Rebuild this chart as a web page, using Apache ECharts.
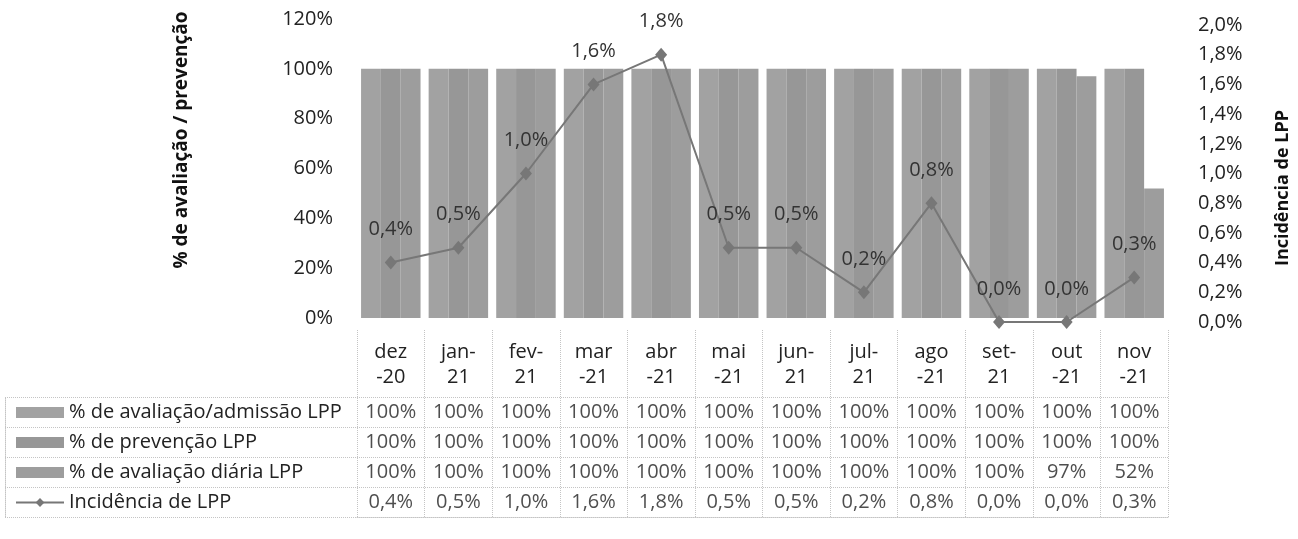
<!DOCTYPE html>
<html>
<head>
<meta charset="utf-8">
<script src="https://cdn.jsdelivr.net/npm/echarts@6/dist/echarts.min.js"></script>
<style>
html,body{margin:0;padding:0;background:#fff;}
#c{width:1298px;height:539px;}
</style>
</head>
<body>
<div id="c"></div>
<script>
// ---- data ----
const categories = ['dez\n-20','jan-\n21','fev-\n21','mar\n-21','abr\n-21','mai\n-21','jun-\n21','jul-\n21','ago\n-21','set-\n21','out\n-21','nov\n-21'];
const seriesNames = ['% de avaliação/admissão LPP','% de prevenção LPP','% de avaliação diária LPP','Incidência de LPP'];
const avaliacaoAdmissao = [100,100,100,100,100,100,100,100,100,100,100,100];
const prevencao         = [100,100,100,100,100,100,100,100,100,100,100,100];
const avaliacaoDiaria   = [100,100,100,100,100,100,100,100,100,100,97,52];
const incidencia        = [0.4,0.5,1.0,1.6,1.8,0.5,0.5,0.2,0.8,0.0,0.0,0.3];
const leftAxis  = {min:0, max:120, interval:20};
const rightAxis = {min:0, max:2, interval:0.2};
const leftTitle = '% de avaliação / prevenção';
const rightTitle = 'Incidência de LPP';

// ---- helpers ----
const FONT = 'Open Sans';
const FS = 20;
const fmt1 = v => Number(v).toFixed(1).replace('.', ',') + '%';
const fmt0 = v => Math.round(v) + '%';
const barColors = ['#a2a2a2','#979797','#9d9d9d'];
const lineColor = '#777777';
const dotted = {color:'#c4c4c4', type:'dotted', width:1};

const tableRows = [avaliacaoAdmissao, prevencao, avaliacaoDiaria, incidencia];
const tableFmt = [fmt0, fmt0, fmt0, fmt1];
const cellData = [];
tableRows.forEach((row, r) => row.forEach((v, i) => cellData.push([i, r, tableFmt[r](v)])));

const L = 357, R = 130;
const chart = echarts.init(document.getElementById('c'));
chart.setOption({
  animation:false,
  textStyle:{fontFamily:FONT},
  grid:[
    {left:L, right:R, top:19, height:299},
    {left:L, right:R, top:25, height:297},
    {left:L, right:R, top:330, height:187},
    {left:5, right:R, top:397, height:120},
    {left:L, right:R, top:397, height:120}
  ],
  xAxis:[
    {type:'category', gridIndex:0, data:categories, axisLine:{show:false}, axisTick:{show:false},
     axisLabel:{margin:22, fontSize:FS, lineHeight:25, color:'#222', fontFamily:FONT, interval:0}},
    {type:'category', gridIndex:1, data:categories, show:false},
    {type:'category', gridIndex:2, data:categories, position:'top', axisLine:{show:true, lineStyle:dotted},
     axisTick:{show:false}, axisLabel:{show:false}, splitLine:{show:true, lineStyle:dotted}},
    {type:'value', gridIndex:3, show:false},
    {type:'category', gridIndex:4, data:categories, show:false}
  ],
  yAxis:[
    {type:'value', gridIndex:0, min:leftAxis.min, max:leftAxis.max, interval:leftAxis.interval,
     axisLine:{show:false}, axisTick:{show:false}, splitLine:{show:false},
     axisLabel:{margin:24, fontSize:FS, color:'#222', fontFamily:FONT, formatter:v=>v+'%'}},
    {type:'value', gridIndex:1, position:'right', min:rightAxis.min, max:rightAxis.max, interval:rightAxis.interval,
     axisLine:{show:false}, axisTick:{show:false}, splitLine:{show:false},
     axisLabel:{margin:30, fontSize:FS, color:'#222', fontFamily:FONT, formatter:fmt1}},
    {type:'value', gridIndex:2, show:false},
    {type:'category', gridIndex:3, data:['0','1','2','3'], axisLine:{show:true, lineStyle:dotted},
     axisTick:{show:false}, axisLabel:{show:false}, splitLine:{show:true, lineStyle:dotted}},
    {type:'category', gridIndex:4, data:['0','1','2','3'], inverse:true, show:false}
  ],
  legend:{
    orient:'vertical', left:15, top:402, padding:0, itemGap:9, itemWidth:48, itemHeight:11,
    textStyle:{fontSize:FS, lineHeight:21, color:'#222', fontFamily:FONT},
    data:[
      {name:seriesNames[0], icon:'rect'},
      {name:seriesNames[1], icon:'rect'},
      {name:seriesNames[2], icon:'rect'},
      {name:seriesNames[3]}
    ], selectedMode:false
  },
  graphic:[
    {type:'text', x:182, y:140, rotation:Math.PI/2,
     style:{text:leftTitle, textAlign:'center', textVerticalAlign:'middle', font:'bold 19px "Open Sans"', fill:'#111'}},
    {type:'text', x:1283, y:188, rotation:Math.PI/2,
     style:{text:rightTitle, textAlign:'center', textVerticalAlign:'middle', font:'bold 18px "Open Sans"', fill:'#111'}}
  ],
  series:[
    {name:seriesNames[0], type:'bar', xAxisIndex:0, yAxisIndex:0, data:avaliacaoAdmissao,
     barGap:'0%', barCategoryGap:'12%', itemStyle:{color:barColors[0]}},
    {name:seriesNames[1], type:'bar', xAxisIndex:0, yAxisIndex:0, data:prevencao,
     barGap:'0%', barCategoryGap:'12%', itemStyle:{color:barColors[1]}},
    {name:seriesNames[2], type:'bar', xAxisIndex:0, yAxisIndex:0, data:avaliacaoDiaria,
     barGap:'0%', barCategoryGap:'12%', itemStyle:{color:barColors[2]}},
    {name:seriesNames[3], type:'line', xAxisIndex:1, yAxisIndex:1, data:incidencia, z:5,
     symbol:'diamond', symbolSize:[12,14], lineStyle:{color:lineColor, width:2},
     itemStyle:{color:lineColor},
     label:{show:true, position:'top', distance:16, formatter:p=>fmt1(p.value), fontSize:FS, color:'#333', fontFamily:FONT}},
    {type:'scatter', xAxisIndex:4, yAxisIndex:4, data:cellData, symbolSize:1, silent:true,
     itemStyle:{color:'transparent'},
     label:{show:true, position:'inside', formatter:p=>p.value[2], fontSize:FS, color:'#222', fontFamily:FONT}}
  ]
});
</script>
</body>
</html>
